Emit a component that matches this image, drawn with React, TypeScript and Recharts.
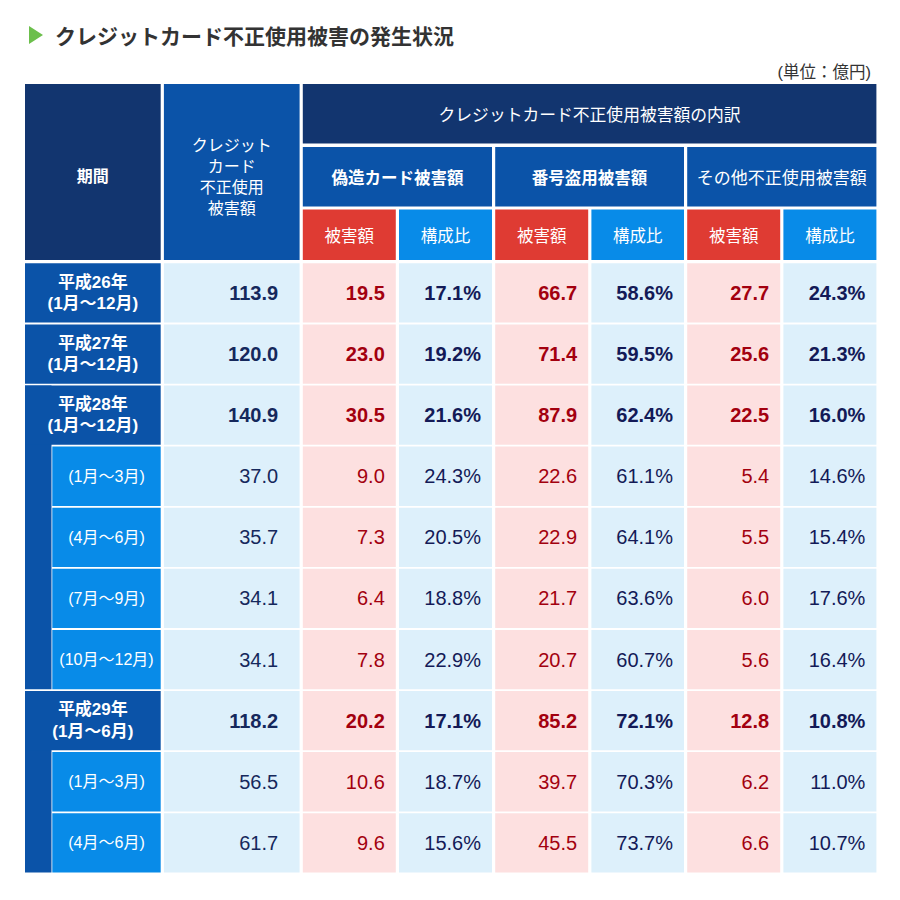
import React from 'react';
import { ComposedChart, XAxis, YAxis, ReferenceArea } from 'recharts';

// ---------------- data ----------------
const periodYears = ['平成26年', '平成27年', '平成28年', '', '', '', '', '平成29年', '', ''];
const periodRanges = ['(1月〜12月)', '(1月〜12月)', '(1月〜12月)', '(1月〜3月)', '(4月〜6月)', '(7月〜9月)', '(10月〜12月)', '(1月〜6月)', '(1月〜3月)', '(4月〜6月)'];
const totals = [113.9, 120.0, 140.9, 37.0, 35.7, 34.1, 34.1, 118.2, 56.5, 61.7];
const counterfeit = [19.5, 23.0, 30.5, 9.0, 7.3, 6.4, 7.8, 20.2, 10.6, 9.6];
const counterfeitShare = [17.1, 19.2, 21.6, 24.3, 20.5, 18.8, 22.9, 17.1, 18.7, 15.6];
const numberTheft = [66.7, 71.4, 87.9, 22.6, 22.9, 21.7, 20.7, 85.2, 39.7, 45.5];
const numberTheftShare = [58.6, 59.5, 62.4, 61.1, 64.1, 63.6, 60.7, 72.1, 70.3, 73.7];
const otherFraud = [27.7, 25.6, 22.5, 5.4, 5.5, 6.0, 5.6, 12.8, 6.2, 6.6];
const otherFraudShare = [24.3, 21.3, 16.0, 14.6, 15.4, 17.6, 16.4, 10.8, 11.0, 10.7];

const title = 'クレジットカード不正使用被害の発生状況';
const unitNote = '(単位：億円)';
const periodHeader = '期間';
const totalHeaderLines = ['クレジット', 'カード', '不正使用', '被害額'];
const breakdownHeader = 'クレジットカード不正使用被害額の内訳';
const groupHeaders = ['偽造カード被害額', '番号盗用被害額', 'その他不正使用被害額'];
const subHeaders = ['被害額', '構成比'];

// ---------------- layout / style ----------------
const TABLE_W = 850;
const TABLE_H = 789;
const COL_WIDTHS = [135.7, 135.7, 93, 93, 93, 92.6, 93, 93];
const COL_GAP = 3.2;
const HEADER_ROWS: [number, number][] = [[0, 59.5], [63, 122.5], [125.5, 176]];
const BODY_TOP = 179.3;
const BODY_PITCH = 61.1;
const BODY_CELL_H = 59.3;
const STRIP_W = 26.5;

const NAVY_HDR = '#12356f';
const MID_BLUE = '#0b53a8';
const BRIGHT_BLUE = '#088be8';
const RED_HDR = '#df3b33';
const PINK = '#fde0e0';
const LIGHT = '#ddf0fb';
const TOTAL_TXT = '#15285c';
const SHARE_TXT = '#131a57';
const RED_TXT = '#a3000f';

const JP = '"Noto Sans CJK JP", sans-serif';
const NUM = '"Liberation Sans", "Noto Sans CJK JP", sans-serif';

const colEdges: [number, number][] = (() => {
  const out: [number, number][] = [];
  let x = 0;
  COL_WIDTHS.forEach((w) => {
    out.push([x, x + w]);
    x += w + COL_GAP;
  });
  return out;
})();

type Cell = {
  x1: number; x2: number; y1: number; y2: number;
  fill: string;
  lines?: string[];
  color?: string;
  size?: number;
  weight?: number | string;
  align?: 'center' | 'right';
  pad?: number;
  lineH?: number;
  dy?: number;
  font?: string;
};

const cells: Cell[] = [];

// header
cells.push({ x1: colEdges[0][0], x2: colEdges[0][1], y1: 0, y2: 176, fill: NAVY_HDR, lines: [periodHeader], color: '#fff', size: 16, weight: 700, font: JP, dy: 3 });
cells.push({ x1: colEdges[1][0], x2: colEdges[1][1], y1: 0, y2: 176, fill: MID_BLUE, lines: totalHeaderLines, color: '#fff', size: 16, weight: 400, lineH: 21.2, font: JP, dy: 3.5 });
cells.push({ x1: colEdges[2][0], x2: colEdges[7][1], y1: HEADER_ROWS[0][0], y2: HEADER_ROWS[0][1], fill: NAVY_HDR, lines: [breakdownHeader], color: '#fff', size: 16.8, weight: 400, font: JP });
groupHeaders.forEach((g, k) => {
  cells.push({ x1: colEdges[2 + 2 * k][0], x2: colEdges[3 + 2 * k][1], y1: HEADER_ROWS[1][0], y2: HEADER_ROWS[1][1], fill: MID_BLUE, lines: [g], color: '#fff', size: k === 2 ? 17 : 16.5, weight: k === 2 ? 400 : 700, font: JP });
  subHeaders.forEach((s, j) => {
    cells.push({ x1: colEdges[2 + 2 * k + j][0], x2: colEdges[2 + 2 * k + j][1], y1: HEADER_ROWS[2][0], y2: HEADER_ROWS[2][1], fill: j === 0 ? RED_HDR : BRIGHT_BLUE, lines: [s], color: '#fff', size: 16.5, weight: 400, font: JP });
  });
});

// body
const rowTop = (i: number) => BODY_TOP + i * BODY_PITCH;
const isYear = (i: number) => periodYears[i] !== '';

// strips for years that have sub-periods
periodYears.forEach((y, i) => {
  if (!isYear(i)) return;
  let last = i;
  while (last + 1 < periodYears.length && !isYear(last + 1)) last++;
  if (last > i) {
    cells.push({ x1: colEdges[0][0], x2: colEdges[0][0] + STRIP_W, y1: rowTop(i), y2: rowTop(last) + BODY_CELL_H, fill: MID_BLUE });
  }
});

periodRanges.forEach((r, i) => {
  const y1 = rowTop(i);
  const y2 = y1 + BODY_CELL_H;
  const bold = isYear(i);
  const w = bold ? 700 : 400;
  if (bold) {
    cells.push({ x1: colEdges[0][0], x2: colEdges[0][1], y1, y2, fill: MID_BLUE, lines: [periodYears[i], r], color: '#fff', size: 17, weight: 700, lineH: 21.6, font: NUM });
  } else {
    cells.push({ x1: colEdges[0][0] + STRIP_W + 0.8, x2: colEdges[0][1], y1, y2, fill: BRIGHT_BLUE, lines: [r], color: '#fff', size: 16, weight: 400, font: NUM });
  }
  cells.push({ x1: colEdges[1][0], x2: colEdges[1][1], y1, y2, fill: LIGHT, lines: [totals[i].toFixed(1)], color: TOTAL_TXT, size: 20, weight: w, align: 'right', pad: 21.5, font: NUM });
  const amounts = [counterfeit, numberTheft, otherFraud];
  const shares = [counterfeitShare, numberTheftShare, otherFraudShare];
  for (let k = 0; k < 3; k++) {
    cells.push({ x1: colEdges[2 + 2 * k][0], x2: colEdges[2 + 2 * k][1], y1, y2, fill: PINK, lines: [amounts[k][i].toFixed(1)], color: RED_TXT, size: 20, weight: w, align: 'right', pad: 11, font: NUM });
    cells.push({ x1: colEdges[3 + 2 * k][0], x2: colEdges[3 + 2 * k][1], y1, y2, fill: LIGHT, lines: [shares[k][i].toFixed(1) + '%'], color: SHARE_TXT, size: 20, weight: w, align: 'right', pad: 11, font: NUM });
  }
});

const makeLabel = (c: Cell) => (props: any) => {
  const vb = props && props.viewBox ? props.viewBox : null;
  if (!vb || !c.lines) return null;
  const { x, y, width, height } = vb;
  const n = c.lines.length;
  const lh = c.lineH || 20;
  const cy = y + height / 2 + (c.dy || 0);
  const right = c.align === 'right';
  const tx = right ? x + width - (c.pad || 0) : x + width / 2;
  return (
    <g>
      {c.lines.map((l, k) => (
        <text
          key={k}
          x={tx}
          y={cy + (k - (n - 1) / 2) * lh}
          textAnchor={right ? 'end' : 'middle'}
          dominantBaseline="central"
          fill={c.color}
          fontSize={c.size}
          fontWeight={c.weight}
          fontFamily={c.font || JP}
        >
          {l}
        </text>
      ))}
    </g>
  );
};

export default function App() {
  return (
    <div style={{ position: 'absolute', left: 0, top: 0, width: 900, height: 900, background: '#fff' }}>
      <div style={{ position: 'absolute', left: 29, top: 26, width: 0, height: 0, borderTop: '9px solid transparent', borderBottom: '9px solid transparent', borderLeft: '14px solid #6cbf4c' }} />
      <div style={{ position: 'absolute', left: 55, top: 21, height: 28, lineHeight: '28px', fontFamily: JP, fontWeight: 700, fontSize: 21, color: '#333', whiteSpace: 'nowrap' }}>{title}</div>
      <div style={{ position: 'absolute', right: 29, top: 61, height: 22, lineHeight: '22px', fontFamily: NUM, fontSize: 16.5, color: '#333', whiteSpace: 'nowrap' }}>{unitNote}</div>
      <div style={{ position: 'absolute', left: 0, top: 0 }}>
        <ComposedChart width={900} height={900} margin={{ top: 84, left: 25, right: 25, bottom: 27 }} data={totals.map((t, i) => ({ i, t }))}>
          <XAxis type="number" dataKey="i" domain={[0, TABLE_W]} hide allowDataOverflow />
          <YAxis type="number" domain={[0, TABLE_H]} reversed hide allowDataOverflow />
          {cells.map((c, i) => (
            <ReferenceArea
              key={i}
              x1={c.x1}
              x2={c.x2}
              y1={c.y1}
              y2={c.y2}
              fill={c.fill}
              fillOpacity={1}
              stroke="none"
              ifOverflow="visible"
              label={c.lines ? makeLabel(c) : undefined}
            />
          ))}
        </ComposedChart>
      </div>
    </div>
  );
}
